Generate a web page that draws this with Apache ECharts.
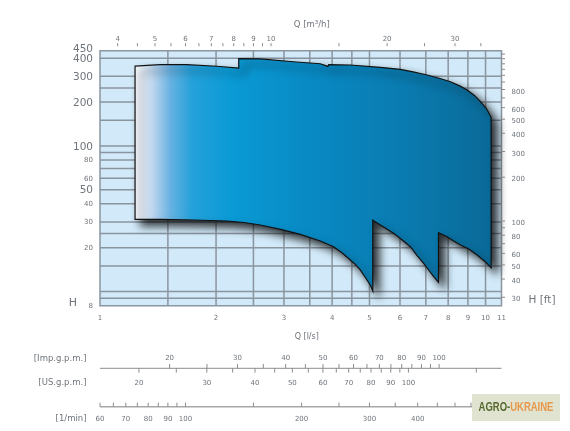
<!DOCTYPE html>
<html><head><meta charset="utf-8">
<script src="https://cdn.jsdelivr.net/npm/echarts@6/dist/echarts.min.js"></script>
<style>html,body{margin:0;padding:0;background:#fff}#c{width:570px;height:431px}</style>
</head><body><div id="c"></div>
<script>
// Main axes: Q in l/s (bottom, log), H in m (left, log)
const qGridLines = [1.5, 2, 2.5, 3, 3.5, 4, 4.5, 5, 6, 7, 8, 9, 10];
const hGridLines = [9, 10, 15, 20, 25, 30, 40, 50, 60, 70, 80, 90, 100, 150, 200, 250, 300, 400];
const qTickLabels = [1, 2, 3, 4, 5, 6, 7, 8, 9, 10, 11];
const hLabelsBig = [450, 400, 300, 200, 100, 50];
const hLabelsSmall = [80, 60, 40, 30, 20, 8];
// Right axis H [ft]
const ftLabels = [30, 40, 50, 60, 80, 100, 200, 300, 400, 500, 600, 800];
const ftTicks = [30, 40, 50, 60, 70, 80, 90, 100, 200, 300, 400, 500, 600, 700, 800, 900, 1000, 1100, 1200, 1300, 1400];
// Top axis Q [m3/h]
const m3hLabels = [4, 5, 6, 7, 8, 9, 10, 20, 30];
const m3hTicks = [4, 4.5, 5, 5.5, 6, 6.5, 7, 7.5, 8, 8.5, 9, 9.5, 10, 15, 20, 25, 30, 35];
// Extra flow scales
const impLabels = [20, 30, 40, 50, 60, 70, 80, 90, 100];
const impTicks = [20, 25, 30, 35, 40, 45, 50, 55, 60, 65, 70, 75, 80, 85, 90, 95, 100];
const usLabels = [20, 30, 40, 50, 60, 70, 80, 90, 100];
const usTicks = [20, 25, 30, 35, 40, 45, 50, 55, 60, 65, 70, 75, 80, 85, 90, 95, 100, 150];
const lminLabels = [60, 70, 80, 90, 100, 200, 300, 400];
const lminTicks = [60, 65, 70, 75, 80, 85, 90, 95, 100, 150, 200, 250, 300, 350, 400, 450, 500, 550, 600, 650];
// Performance envelope boundary (Q l/s, H m)
const envelopeQ = [1.233, 1.432, 1.680, 2.009, 2.29, 2.29, 2.603, 3.170, 3.727, 3.90, 3.92, 4.459, 5.335, 6.012, 6.49, 7.053, 7.62, 8.105, 8.57, 8.959, 9.36, 9.700, 10.00, 10.10, 10.34,
  10.34, 9.96, 9.511, 9.05, 8.607, 8.23, 7.946, 7.55, 7.55, 7.337, 7.14, 6.911, 6.63, 6.383, 6.07, 5.775, 5.335, 5.10,
  5.10, 5.03, 4.927, 4.83, 4.733, 4.60, 4.459, 4.25, 4.035, 3.727, 3.306, 2.94, 2.603, 2.36, 2.133, 1.747, 1.432, 1.233];
const envelopeH = [353, 361, 361, 352, 342, 397, 395, 378, 366, 351, 361, 359, 346, 335, 322, 306.5, 290, 275.6, 258, 241.8, 222, 201, 183, 176.3, 157.1,
  14.58, 16.1, 17.82, 19.6, 20.87, 22.4, 23.80, 25.36, 11.57, 12.65, 13.9, 15.63, 17.8, 20.32, 22.7, 25.11, 28.64, 30.99,
  10.09, 11.0, 12.01, 13.0, 14.07, 15.3, 16.47, 18.4, 20.32, 22.24, 24.72, 26.7, 28.64, 29.8, 30.5, 30.99, 31.33, 31.33];

const M3H = 3.6, FT = 3.2808, IMP = 13.198, USG = 15.850, LMIN = 60;
const FONT = '"DejaVu Sans", sans-serif';
const TXT = '#6f757c';
const GRIDC = '#8a959f';

function txt(x, y, s, size, align, color) {
  return { type: 'text', x: x, y: y, style: { text: s, font: size + 'px ' + FONT, fill: color || TXT, align: align || 'center', verticalAlign: 'middle' } };
}
function ln(x1, y1, x2, y2, c, w) {
  return { type: 'line', shape: { x1: x1, y1: y1, x2: x2, y2: y2 }, style: { stroke: c || GRIDC, lineWidth: w || 1 } };
}

function gridRender(params, api) {
  const ch = [];
  qGridLines.forEach(q => { const a = api.coord([q, 8]), b = api.coord([q, 450]); ch.push(ln(a[0], a[1], b[0], b[1], GRIDC, 1.5)); });
  hGridLines.forEach(h => { const a = api.coord([1, h]), b = api.coord([11, h]); ch.push(ln(a[0], a[1], b[0], b[1], GRIDC, 1.5)); });
  return { type: 'group', children: ch };
}

function envRender(params, api) {
  const pts = envelopeQ.map((q, i) => api.coord([q, envelopeH[i]]));
  return {
    type: 'polygon', shape: { points: pts },
    style: {
      fill: new echarts.graphic.LinearGradient(0, 0, 1, 0, [
        { offset: 0, color: '#fbfcfe' }, { offset: 0.025, color: '#e2ecf7' }, { offset: 0.06, color: '#afcfec' },
        { offset: 0.1, color: '#68b2e2' }, { offset: 0.16, color: '#25a1da' }, { offset: 0.27, color: '#0a9ad5' },
        { offset: 0.5, color: '#0889c3' }, { offset: 0.75, color: '#0a7bb0' }, { offset: 1, color: '#0a6a98' }]),
      stroke: '#111', lineWidth: 1.2,
      shadowBlur: 8, shadowOffsetX: 6, shadowOffsetY: 6, shadowColor: 'rgba(0,0,0,0.8)'
    }
  };
}

function axesRender(params, api) {
  const ch = [];
  const tl = api.coord([1, 450]), br = api.coord([11, 8]);
  const L = tl[0], T = tl[1], R = br[0], B = br[1];
  // left labels
  hLabelsBig.forEach(h => ch.push(txt(L - 7, api.coord([1, h])[1] + (h === 450 ? -1 : 1), String(h), 10.5, 'right')));
  hLabelsSmall.forEach(h => ch.push(txt(L - 7, api.coord([1, h])[1] + 0.5, String(h), 7, 'right')));
  ch.push(txt(L - 27, B - 3, 'H', 11, 'center'));
  // bottom labels
  qTickLabels.forEach(q => ch.push(txt(api.coord([q, 8])[0], B + 12, String(q), 7, 'center')));
  ch.push(txt((L + R) / 2 + 6, B + 31.5, 'Q [l/s]', 8, 'center'));
  // right ft axis
  ftTicks.forEach(f => { const y = api.coord([11, f / FT])[1]; ch.push(ln(R, y, R + 3.5, y, '#8a8a8a', 1)); });
  ftLabels.forEach(f => ch.push(txt(R + 10, api.coord([11, f / FT])[1] + 2.3, String(f), 7, 'left')));
  ch.push(txt(R + 27, B - 5, 'H [ft]', 10.5, 'left'));
  // top m3/h axis
  m3hTicks.forEach(m => { const x = api.coord([m / M3H, 450])[0]; ch.push(ln(x, T - 7.5, x, T - 4.5, '#8a8a8a', 1)); });
  m3hLabels.forEach(m => ch.push(txt(api.coord([m / M3H, 450])[0], T - 11.5, String(m), 7, 'center')));
  ch.push(txt((L + R) / 2 + 11, T - 26, 'Q [m³/h]', 8.5, 'center'));
  // Imp / US g.p.m. scale
  const yImp = B + 62.6;
  ch.push(ln(L, yImp, R, yImp, '#8c8c8c', 1));
  impTicks.forEach(v => { const x = api.coord([v / IMP, 8])[0]; ch.push(ln(x, yImp - 4.3, x, yImp, '#8c8c8c', 1)); });
  usTicks.forEach(v => { const x = api.coord([v / USG, 8])[0]; ch.push(ln(x, yImp, x, yImp + 4.3, '#8c8c8c', 1)); });
  impLabels.forEach(v => ch.push(txt(api.coord([v / IMP, 8])[0], B + 52.6, String(v), 7, 'center')));
  usLabels.forEach(v => ch.push(txt(api.coord([v / USG, 8])[0], B + 77, String(v), 7, 'center')));
  ch.push(txt(L - 13.5, B + 52.6, '[Imp.g.p.m.]', 8.5, 'right'));
  ch.push(txt(L - 13.5, B + 77, '[US.g.p.m.]', 8.5, 'right'));
  // l/min scale
  const yL = B + 101;
  ch.push(ln(L, yL, R, yL, '#a8a8a8', 1.6));
  lminTicks.forEach(v => { const x = api.coord([v / LMIN, 8])[0]; ch.push(ln(x, yL - 4, x, yL, '#8c8c8c', 1)); });
  lminLabels.forEach(v => ch.push(txt(api.coord([v / LMIN, 8])[0], B + 113, String(v), 7, 'center')));
  ch.push(txt(L - 13.5, B + 113, '[1/min]', 8.5, 'right'));
  return { type: 'group', children: ch };
}

const chart = echarts.init(document.getElementById('c'), null, { renderer: 'canvas' });
chart.setOption({
  animation: false,
  backgroundColor: '#ffffff',
  grid: { left: 100, right: 68.5, top: 50.7, bottom: 125.3, show: true, backgroundColor: '#d1e9f8', borderColor: GRIDC, borderWidth: 1.5 },
  xAxis: { type: 'log', logBase: 10, min: 1, max: 11, show: false },
  yAxis: { type: 'log', logBase: 10, min: 8, max: 450, show: false },
  graphic: [
    { type: 'rect', left: 472, top: 394, shape: { width: 88, height: 27 }, style: { fill: '#dfe3d0' }, z: 100 },
    { type: 'text', x: 516, y: 407.5, scaleX: 0.73, z: 101,
      style: { text: '{a|AGRO-}{b|UKRAINE}', align: 'center', verticalAlign: 'middle',
        rich: { a: { font: 'bold 13px "Liberation Sans", sans-serif', fill: '#56682e', color: '#56682e' },
                b: { font: 'bold 13px "Liberation Sans", sans-serif', fill: '#e8984a', color: '#e8984a' } } } }
  ],
  series: [
    { type: 'custom', coordinateSystem: 'cartesian2d', clip: false, z: 1, silent: true, data: [[1, 8]], renderItem: gridRender },
    { type: 'custom', coordinateSystem: 'cartesian2d', clip: false, z: 2, silent: true, data: [[envelopeQ[0], envelopeH[0]]], renderItem: envRender },
    { type: 'custom', coordinateSystem: 'cartesian2d', clip: false, z: 3, silent: true, data: [[1, 8]], renderItem: axesRender }
  ]
});
</script></body></html>
